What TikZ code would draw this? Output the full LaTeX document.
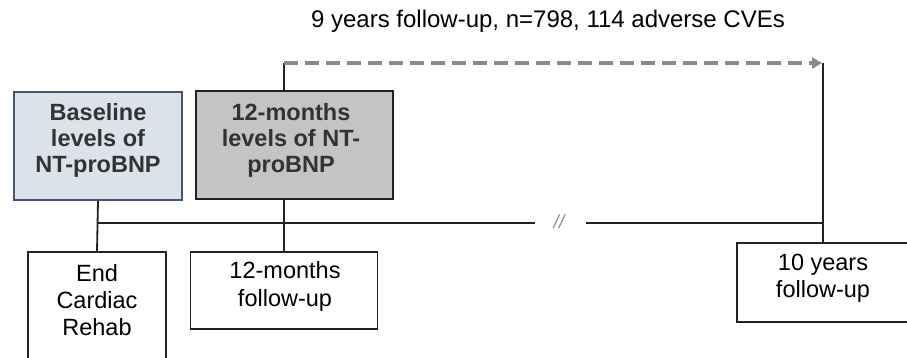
\documentclass[tikz,border=0pt]{standalone}
\usepackage{fontspec}
\setmainfont{Liberation Sans}
\usetikzlibrary{arrows.meta}
\definecolor{boxblue}{HTML}{DCE2EA}
\definecolor{boxblueline}{HTML}{44546A}
\definecolor{boxgray}{HTML}{C4C4C4}
\definecolor{lineblack}{HTML}{222222}
\definecolor{dashgray}{HTML}{8A8A8A}
\definecolor{boldtext}{HTML}{333333}
\definecolor{slashcol}{HTML}{8090A8}
\begin{document}
\begin{tikzpicture}[x=1pt,y=-1pt,
  plainbox/.style={draw=lineblack, line width=1.8pt, fill=white, inner sep=0pt},
  bluebox/.style={draw=boxblueline, line width=1.8pt, fill=boxblue, inner sep=0pt},
  graybox/.style={draw=lineblack, line width=1.8pt, fill=boxgray, inner sep=0pt},
  boldlbl/.style={align=center, text=boldtext, font=\fontsize{23.5}{26}\selectfont\bfseries, inner sep=0pt},
  plainlbl/.style={align=center, text=black, font=\fontsize{23.5}{27.3}\selectfont, inner sep=0pt},
  conn/.style={draw=lineblack, line width=1.8pt},
  dashconn/.style={draw=dashgray, line width=3.4pt, dash pattern=on 14pt off 7pt,
     -{Triangle[length=10pt,width=11pt]}}
]
\clip (0,0) rectangle (907,357);
\fill[white] (0,0) rectangle (907,357);

% top label
\node[anchor=base, font=\fontsize{24}{28}\selectfont, text=black, inner sep=0pt] (toplbl) at (548,27) {9 years follow-up, n=798, 114 adverse CVEs};

% boxes
\node[bluebox, minimum width=168pt, minimum height=108pt] (base) at (98,146) {};
\node[boldlbl] (basetxt) at (98,140) {Baseline\\levels of\\NT-proBNP};

\node[graybox, minimum width=197pt, minimum height=108pt] (twelve) at (294.5,145) {};
\node[boldlbl] (twelvetxt) at (291,140) {12-months\\levels of NT-\\proBNP};

\node[plainbox, minimum width=138pt, minimum height=112pt] (endb) at (97,308) {};
\node[plainlbl] (endtxt) at (97,300) {End\\Cardiac\\Rehab};

\node[plainbox, minimum width=187pt, minimum height=77pt] (fu) at (284,290.5) {};
\node[plainlbl] (futxt) at (285,286.5) {12-months\\follow-up};

\node[plainbox, minimum width=172pt, minimum height=79pt] (ten) at (823,282.5) {};
\node[plainlbl] (tentxt) at (823,278.5) {10 years\\follow-up};

% helper coordinates
\coordinate (hy) at (0,223);
\coordinate (ty) at (0,63);
\coordinate (gl) at (535,223);
\coordinate (gr) at (586,223);

\node[font=\fontsize{19}{19}\selectfont\itshape, text=slashcol, inner sep=0pt] (brk) at (559,222) {//};

% connectors
\draw[conn] (base.south) -- (endb.north);
\draw[conn] (base.south |- hy) -- (gl);
\draw[conn] (gr) -- (ten.north |- hy);
\draw[conn] (fu.north |- twelve.south) -- (fu.north);
\draw[conn] (fu.north |- twelve.north) -- (fu.north |- ty);
\draw[conn] (ten.north |- ty) -- (ten.north);
\draw[dashconn] (fu.north |- ty) -- ([xshift=-1pt]ten.north |- ty);
\end{tikzpicture}
\end{document}
